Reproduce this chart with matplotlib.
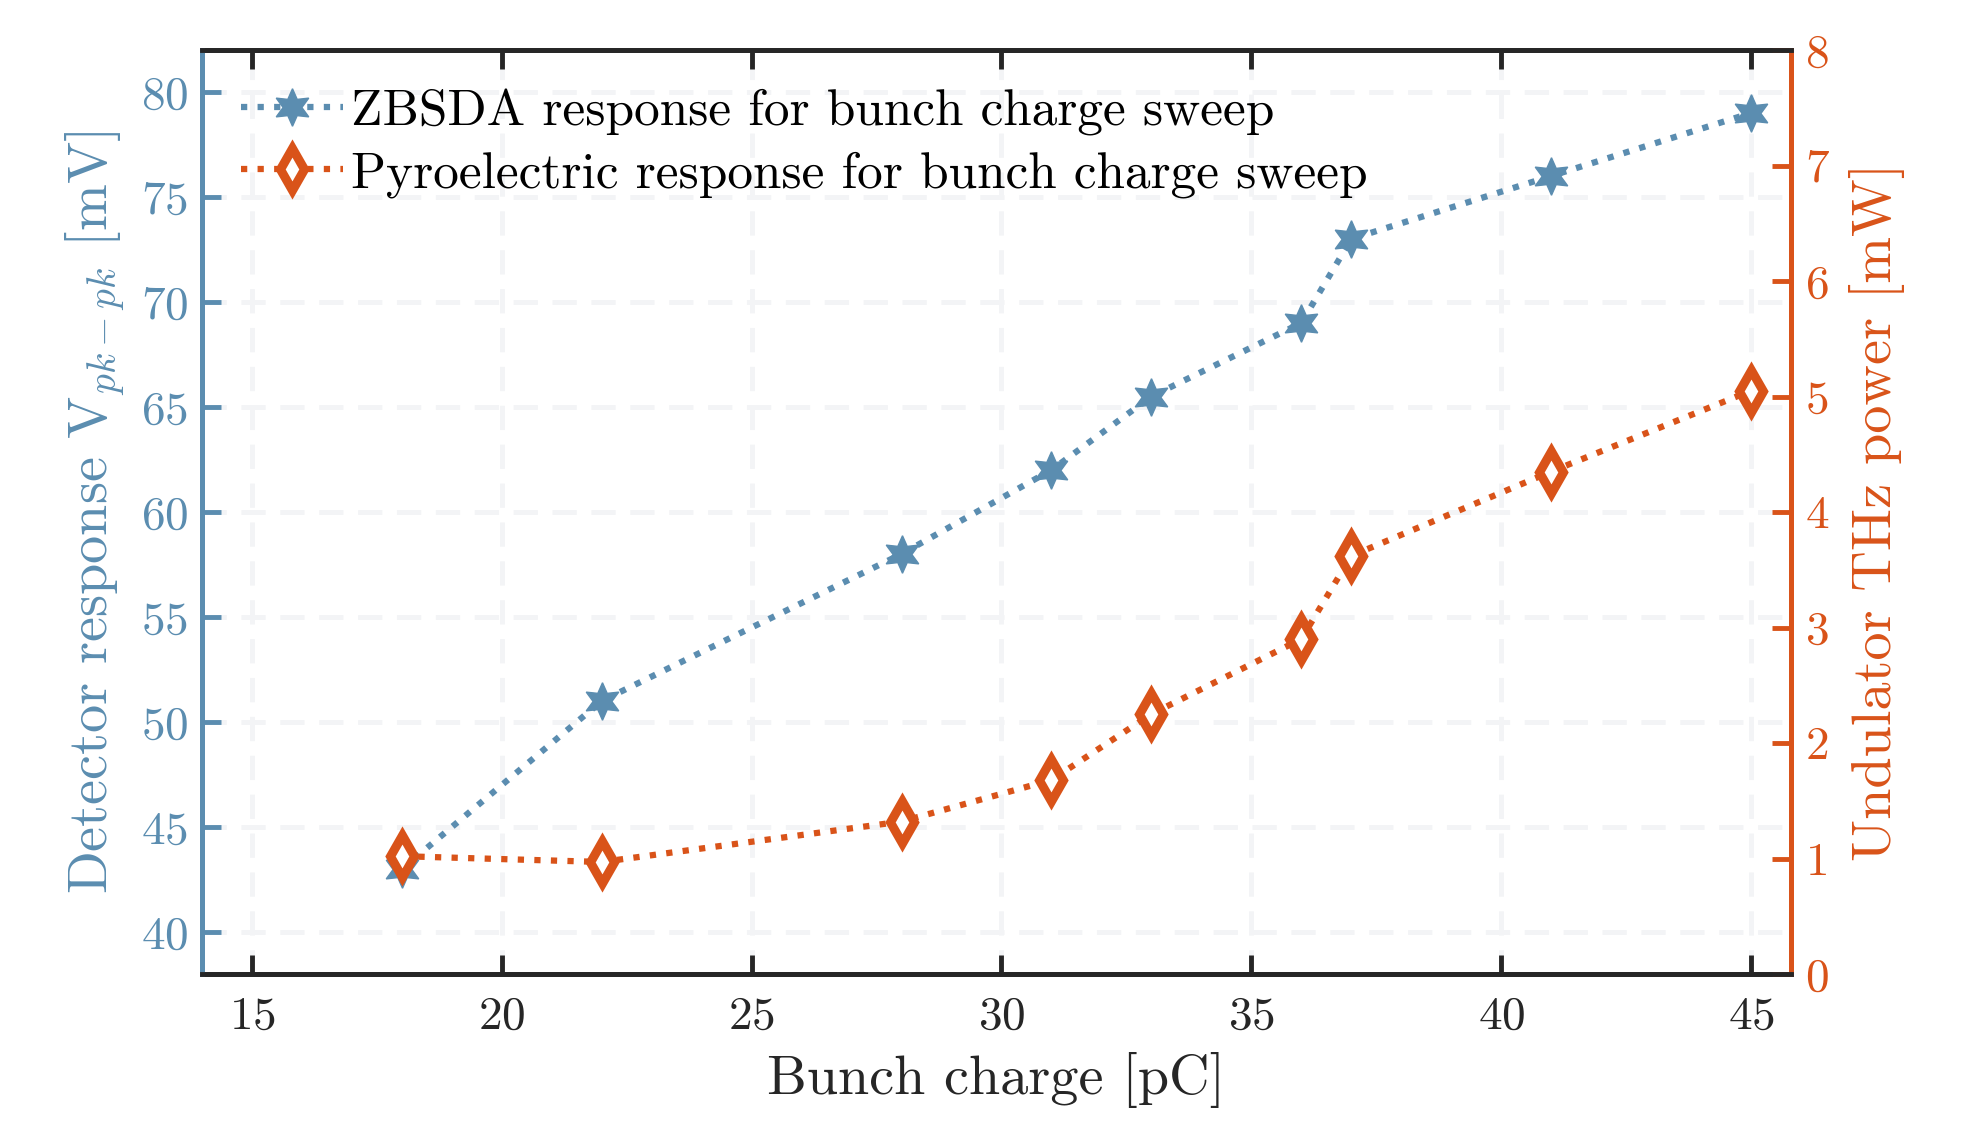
import numpy as np
import matplotlib
matplotlib.use("Agg")
import matplotlib.pyplot as plt

# ── data ────────────────────────────────────────────────
charge = [18, 22, 28, 31, 33, 36, 37, 41, 45]              # pC
zbsda_mv = [43, 51, 58, 62, 65.5, 69, 73, 76, 79]           # mV
pyro_mw = [1.02, 0.97, 1.32, 1.68, 2.25, 2.90, 3.62, 4.35, 5.05]  # mW

x_ticks = [15, 20, 25, 30, 35, 40, 45]
left_ticks = [40, 45, 50, 55, 60, 65, 70, 75, 80]
right_ticks = [0, 1, 2, 3, 4, 5, 6, 7, 8]

blue = '#5b8db0'
orange = '#d95319'
dark = '#262626'

plt.rcParams['font.family'] = 'serif'
plt.rcParams['font.serif'] = ['cmr10', 'DejaVu Serif']
plt.rcParams['mathtext.fontset'] = 'cm'
plt.rcParams['axes.formatter.use_mathtext'] = True

fig = plt.figure(figsize=(19.78, 11.25), dpi=100)
ax = fig.add_axes([202 / 1978, 1 - 974 / 1125, (1791 - 202) / 1978, (974 - 50) / 1125])
ax2 = ax.twinx()

l1, = ax.plot(charge, zbsda_mv, linestyle=':', linewidth=4.5, color=blue,
              marker=(6, 1, 0), markersize=27, markeredgecolor=blue,
              markerfacecolor=blue, label='ZBSDA response for bunch charge sweep')
l2, = ax2.plot(charge, pyro_mw, linestyle=':', linewidth=4.5, color=orange,
               marker='d', markersize=21, markeredgewidth=6.5,
               markeredgecolor=orange, markerfacecolor='white',
               label='Pyroelectric response for bunch charge sweep')

ax.set_xlim(14, 45.8)
ax.set_ylim(38, 82)
ax2.set_ylim(0, 8)
ax.set_xticks(x_ticks)
ax.set_yticks(left_ticks)
ax2.set_yticks(right_ticks)

# grid on the left axes, dashed very light grey
ax.grid(True, linestyle=(0, (5, 3)), linewidth=3.5, color='#f3f4f6')
ax.set_axisbelow(True)

for a in (ax, ax2):
    a.spines['top'].set_color(dark)
    a.spines['bottom'].set_color(dark)
    for s in a.spines.values():
        s.set_linewidth(3.5)
ax2.spines['left'].set_color(blue)
ax2.spines['right'].set_color(orange)
ax.spines['left'].set_color(blue)
ax.spines['right'].set_color(orange)

ax.tick_params(axis='x', direction='in', length=14, width=3.5, color=dark,
               labelsize=34, labelcolor=dark, top=True, pad=16)
ax.tick_params(axis='y', direction='in', length=14, width=3.5, color=blue,
               labelsize=34, labelcolor=blue, pad=10)
ax2.tick_params(axis='y', direction='in', length=14, width=3.5, color=orange,
                labelsize=34, labelcolor=orange, pad=10)

ax.set_xlabel('Bunch charge [pC]', fontsize=40.5, color=dark, labelpad=10)
ax.set_ylabel(r'Detector response V$_{pk-pk}$ [mV]', fontsize=40.5, color=blue, labelpad=10)
ax2.set_ylabel('Undulator THz power [mW]', fontsize=40.5, color=orange, labelpad=14)

leg = ax.legend(handles=[l1, l2], loc='upper left', frameon=False, fontsize=37,
                handlelength=2.0, handletextpad=0.15, borderaxespad=0.35,
                labelspacing=0.3, bbox_to_anchor=(0.0, 1.0))

fig.savefig('out.png', dpi=100)
